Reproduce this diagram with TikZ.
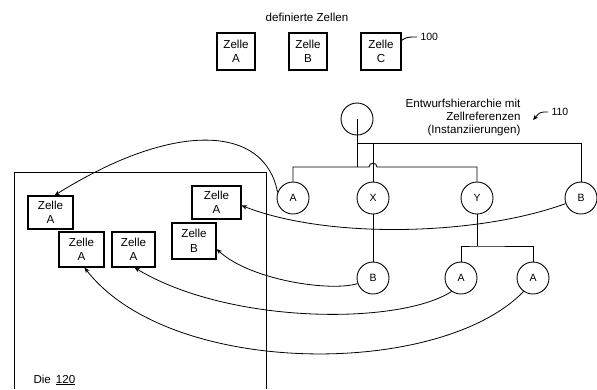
\documentclass[tikz,border=0pt]{standalone}
\usepackage{fontspec}
\setmainfont{Liberation Sans}
\usetikzlibrary{arrows.meta, calc}

\begin{document}
\begin{tikzpicture}[
    x=1pt, y=-1pt,
    % Styles
    cell/.style={ draw, line width=1.2pt, align=center, inner sep=1pt, minimum width=#1, minimum height=35pt, font=\fontsize{11.6}{14.5}\selectfont },
    cell/.default=44pt,
    inst/.style={circle, draw, line width=0.9pt, minimum size=32pt, inner sep=0pt, font=\fontsize{10.5}{12}\selectfont},
    link/.style={line width=0.9pt},
    ref/.style={line width=0.8pt, -{Stealth[length=5.5pt, width=4.5pt]}},
    label/.style={font=\fontsize{11.6}{13}\selectfont}, ]
  \useasboundingbox (0,0) rectangle (597,389);

  % 1) Defined cells
  \node[label] (title) at (307,17) {definierte Zellen};
  \node[cell=38pt, minimum height=37pt] (defA) at (236,51.5) {Zelle\\A};
  \node[cell=38pt, minimum height=37pt] (defB) at (308,51.5) {Zelle\\B};
  \node[cell=40pt, minimum height=37pt] (defC) at (381,51.5) {Zelle\\C};

  \node[label, anchor=west, font=\fontsize{10.5}{12}\selectfont] (num100) at (417,37) {100};
  \draw[link] ($(defC.north east)+(0,8)$) .. controls (407,37) .. (num100.west);

  % 2) Design hierarchy with cell references
  \node[label, align=right, anchor=north east] (hier) at (524,96)
  {Entwurfshierarchie mit\\Zellreferenzen\\(Instanziierungen)};
  \node[label, anchor=west, font=\fontsize{10.5}{12}\selectfont] (num110) at (548,112) {110};
  \draw[ref] (num110.west) .. controls (540,112) .. (533,120);

  \node[inst] (root) at (357,119) {};
  \node[inst] (nA)   at (293,198) {A};
  \node[inst] (nX)   at (373,198) {X};
  \node[inst] (nY)   at (477,198) {Y};
  \node[inst] (nB)   at (581,198) {B};
  \node[inst] (nXB)  at (373,278) {B};
  \node[inst] (nYA1) at (461,278) {A};
  \node[inst] (nYA2) at (533,278) {A};

  \coordinate (jTop) at (357,143);
  \coordinate (jMid) at (357,167);
  \coordinate (jX)   at (373,143);
  \coordinate (jY)   at (477,246);

  \draw[link] (root.center) -- (jMid);
  \draw[link] (jTop) -| (nB);
  \draw[link] (jX) -- (nX);
  \draw[link] (nA) |- (369,167)
  .. controls (369,162) and (377,162) .. (377,167) -| (nY);
  \draw[link] (nX) -- (nXB);
  \draw[link] (nY) -- (jY);
  \draw[link] (nYA1) |- (jY) -| (nYA2);

  % 3) Die with placed cells
  \draw[link] (14,389) |- (266,172) -- (266,389);
  \node[label, anchor=base west] (die) at (30,383) {Die\hspace{5pt}\underline{120}};

  \node[cell=45pt, minimum height=33pt] (dieA1) at (50.5,212.5) {Zelle\\A};
  \node[cell=49pt, minimum height=33pt] (dieA0) at (216.5,202.5) {Zelle\\A};
  \node[cell=44pt, minimum height=36pt] (dieB)  at (194,241) {Zelle\\B};
  \node[cell=45pt, minimum height=35pt] (dieA2) at (81.5,249.5) {Zelle\\A};
  \node[cell=43pt, minimum height=35pt] (dieA3) at (133.5,249.5) {Zelle\\A};

  % 4) Instance references
  \draw[ref] (nA.160) .. controls (265,125) and (175,120) .. ($(dieA1.north)+(4,0)$);
  \draw[ref] (nB.200) .. controls (480,235) and (330,240) .. ($(dieA0.east)+(0,3)$);
  \draw[ref] (nXB.200) .. controls (330,292) and (250,280) .. ($(dieB.east)+(0,8)$);
  \draw[ref] (nYA1.235) .. controls (400,325) and (230,325) .. ($(dieA3.south)+(1,0)$);
  \draw[ref] (nYA2.235) .. controls (440,378) and (170,378) .. ($(dieA2.south)+(3,0)$);
\end{tikzpicture}
\end{document}
